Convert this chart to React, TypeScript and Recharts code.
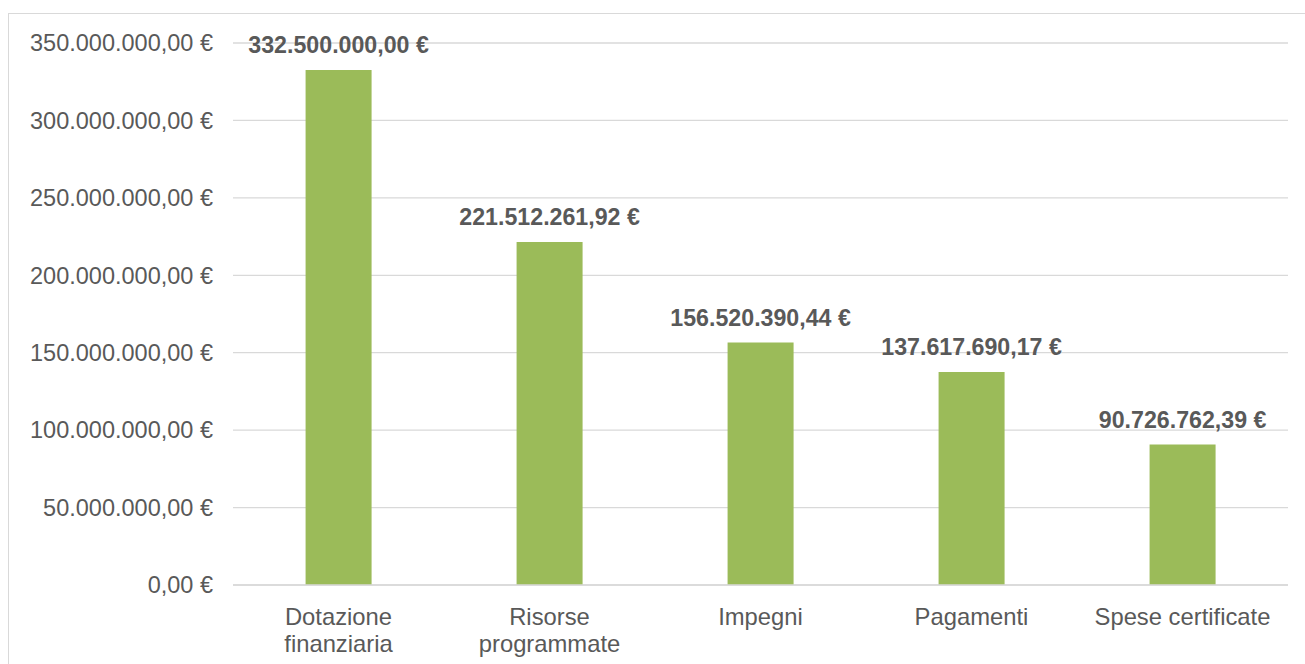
import { BarChart, Bar, XAxis, YAxis, CartesianGrid, LabelList } from "recharts";

const categories = [
  "Dotazione finanziaria",
  "Risorse programmate",
  "Impegni",
  "Pagamenti",
  "Spese certificate",
];
const categoryLines = [
  ["Dotazione", "finanziaria"],
  ["Risorse", "programmate"],
  ["Impegni"],
  ["Pagamenti"],
  ["Spese certificate"],
];
const amounts = [332500000.0, 221512261.92, 156520390.44, 137617690.17, 90726762.39];
const yTicks = [0, 50000000, 100000000, 150000000, 200000000, 250000000, 300000000, 350000000];

const data = categories.map((name, i) => ({ name, value: amounts[i] }));

const TEXT = "#595959";
const GRID = "#D9D9D9";
const BAR = "#9BBB59";
const FONT = "Arial, 'Liberation Sans', sans-serif";

function euro(v: number) {
  const [int, dec] = Math.abs(v).toFixed(2).split(".");
  const grouped = int.replace(/\B(?=(\d{3})+(?!\d))/g, ".");
  return `${grouped},${dec} €`;
}

function CategoryTick(props: any) {
  const { x, y, payload } = props;
  const idx = categories.indexOf(payload.value);
  const lines = categoryLines[idx] || [payload.value];
  return (
    <text
      x={x}
      y={y + 38}
      textAnchor="middle"
      fill={TEXT}
      fontSize={23.8}
      fontFamily={FONT}
    >
      {lines.map((l: string, i: number) => (
        <tspan key={i} x={x} dy={i === 0 ? 0 : 27}>
          {l}
        </tspan>
      ))}
    </text>
  );
}

function ValueLabel(props: any) {
  const { x, y, width, value } = props;
  return (
    <text
      x={Number(x) + Number(width) / 2}
      y={Number(y) - 17}
      textAnchor="middle"
      fill={TEXT}
      fontSize={23.2}
      fontWeight="bold"
      fontFamily={FONT}
    >
      {euro(Number(value))}
    </text>
  );
}

export default function App() {
  return (
    <div
      style={{
        position: "fixed",
        left: 0,
        top: 0,
        width: 1305,
        height: 664,
        overflow: "hidden",
        background: "#fff",
      }}
    >
      <div
        style={{
          position: "absolute",
          left: 8,
          top: 13,
          width: 1320,
          height: 680,
          border: `1px solid ${GRID}`,
        }}
      />
      <div style={{ position: "absolute", left: 0, top: 0 }}>
        <BarChart
          width={1305}
          height={664}
          data={data}
          margin={{ top: 43, right: 17, bottom: 0, left: 0 }}
          barCategoryGap="34.4%"
        >
          <CartesianGrid vertical={false} stroke={GRID} strokeWidth={1.3} />
          <XAxis
            dataKey="name"
            tick={<CategoryTick />}
            tickLine={false}
            tickSize={0}
            axisLine={{ stroke: GRID, strokeWidth: 1.3 }}
            interval={0}
            height={79}
          />
          <YAxis
            domain={[0, 350000000]}
            ticks={yTicks}
            tickFormatter={euro}
            width={233}
            axisLine={false}
            tickLine={false}
            tickSize={0}
            tickMargin={20}
            tick={{ fill: TEXT, fontSize: 23.5, fontFamily: FONT }}
          />
          <Bar dataKey="value" fill={BAR} isAnimationActive={false}>
            <LabelList dataKey="value" content={<ValueLabel />} />
          </Bar>
        </BarChart>
      </div>
    </div>
  );
}
